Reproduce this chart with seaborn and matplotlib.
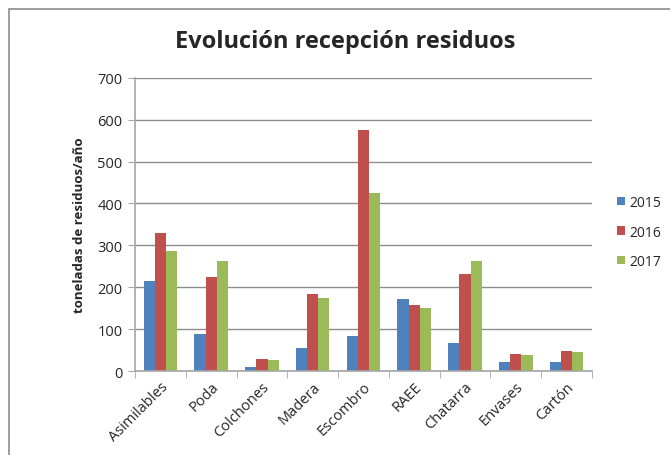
import pandas as pd
import numpy as np
import matplotlib
matplotlib.use('Agg')
import matplotlib.pyplot as plt
import seaborn as sns
from matplotlib.patches import Rectangle

categorias = ['Asimilables', 'Poda', 'Colchones', 'Madera', 'Escombro',
              'RAEE', 'Chatarra', 'Envases', 'Cartón']
anios = ['2015', '2016', '2017']
v2015 = [216, 88, 10, 56, 85, 172, 67, 21, 21]
v2016 = [329, 224, 30, 184, 575, 158, 231, 41, 49]
v2017 = [286, 263, 26, 175, 426, 151, 263, 38, 45]
colores = ['#4F81BD', '#C0504D', '#9BBB59']

df = pd.DataFrame({
    'categoria': categorias * 3,
    'anio': [a for a in anios for _ in categorias],
    'valor': v2015 + v2016 + v2017,
})

sns.set_style('white')
plt.rcParams['font.family'] = ['Open Sans', 'DejaVu Sans']

fig = plt.figure(figsize=(6.7, 4.56), dpi=100)
ax = fig.add_axes([0.2015, 0.1836, 0.682, 0.644])

sns.barplot(data=df, x='categoria', y='valor', hue='anio', palette=colores,
            width=0.66, gap=0, saturation=1, linewidth=0, ax=ax, legend=True)

ax.set_ylim(0, 700)
ax.set_xlim(-0.5, 8.5)
ax.set_yticks(range(0, 701, 100))
ax.yaxis.grid(True, color='#8c8c8c', linewidth=1)
ax.set_axisbelow(True)
for s in ['top', 'right']:
    ax.spines[s].set_visible(False)
for s in ['left', 'bottom']:
    ax.spines[s].set_color('#a6a6a6')
    ax.spines[s].set_linewidth(1.2)

ax.set_xlabel('')
ax.set_ylabel('toneladas de residuos/año', fontsize=9.5, fontweight='bold', labelpad=8)
ax.tick_params(axis='y', which='major', left=True, length=5, color='#a6a6a6',
               labelsize=10.5, pad=4)
ax.tick_params(axis='x', which='major', bottom=False, labelsize=10.5, pad=2)
ax.set_xticks(np.arange(-0.5, 9, 1), minor=True)
ax.tick_params(axis='x', which='minor', bottom=True, length=5, color='#a6a6a6')
plt.setp(ax.get_xticklabels(), rotation=45, ha='right', rotation_mode='anchor')

ax.legend(loc='center left', bbox_to_anchor=(0.921, 0.489), bbox_transform=fig.transFigure,
          frameon=False, fontsize=10, handlelength=0.55, handleheight=0.55,
          handletextpad=0.35, labelspacing=1.05, borderpad=0, borderaxespad=0)

fig.suptitle('Evolución recepción residuos', x=0.515, y=0.935, fontsize=17, fontweight='bold')

fig.patches.append(Rectangle((8.5 / 670, -0.1), 1.2, 1.1 - 10 / 456,
                             transform=fig.transFigure, fill=False,
                             edgecolor='#8c8c8c', linewidth=1.2))

fig.savefig('out.png', dpi=100)
